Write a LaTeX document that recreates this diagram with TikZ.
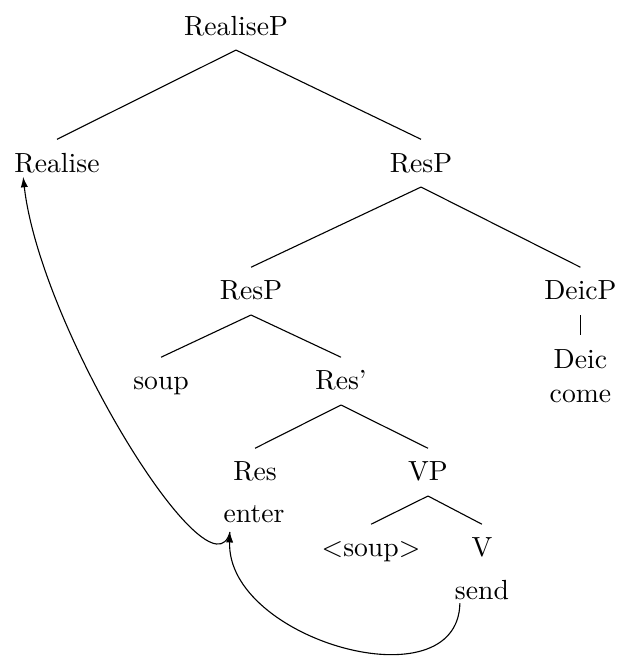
\documentclass[tikz,border=0pt]{standalone}
\usepackage{tikz}
\usetikzlibrary{arrows.meta}

\begin{document}
\begin{tikzpicture}[
  x=1cm,y=1cm,
  cat/.style={anchor=base,inner sep=3.33pt,text height=8.3pt,text depth=1.9pt},
  branch/.style={draw=black,line width=0.4pt},
  move/.style={-{Latex[length=3.8pt,width=2.6pt]},draw=black,line width=0.4pt}
]
  \useasboundingbox (0,0) rectangle (7.836,8.357);

  \node[cat] (realisep) at (2.997,7.912) {RealiseP};
  \node[cat] (realise) at (0.724,6.172) {Realise};
  \node[cat] (respa) at (5.347,6.172) {ResP};
  \node[cat] (respb) at (3.188,4.547) {ResP};
  \node[cat] (deicp) at (7.372,4.547) {DeicP};
  \node[cat] (deic) at (7.372,3.683) {Deic};
  \node[cat] (come) at (7.372,3.239) {come};
  \node[cat] (soup) at (2.045,3.404) {soup};
  \node[cat] (resbar) at (4.331,3.404) {Res'};
  \node[cat] (res) at (3.239,2.248) {Res};
  \node[cat] (enter) at (3.226,1.715) {enter};
  \node[cat] (vp) at (5.436,2.248) {VP};
  \node[cat] (trace) at (4.712,1.283) {$<$soup$>$};
  \node[cat] (v) at (6.121,1.283) {V};
  \node[cat] (send) at (6.121,0.737) {send};

  \draw[branch] (realisep.south) -- (realise.north);
  \draw[branch] (realisep.south) -- (respa.north);
  \draw[branch] (respa.south) -- (respb.north);
  \draw[branch] (respa.south) -- (deicp.north);
  \draw[branch] (deicp.south) -- (deic.north);
  \draw[branch] (respb.south) -- (soup.north);
  \draw[branch] (respb.south) -- (resbar.north);
  \draw[branch] (resbar.south) -- (res.north);
  \draw[branch] (resbar.south) -- (vp.north);
  \draw[branch] (vp.south) -- (trace.north);
  \draw[branch] (vp.south) -- (v.north);

  \draw[move] ([shift={(-0.28,-0.04)}]send.base) .. controls +(-0.025,-1.3)
    and +(-0.05,-1.37) .. ([shift={(-0.305,-0.114)}]enter.base);
  \draw[move] ([shift={(-0.305,-0.114)}]enter.base) .. controls +(-0.24,-0.93)
    and +(0.22,-1.94) .. ([shift={(-0.43,-0.06)}]realise.base);
\end{tikzpicture}
\end{document}
